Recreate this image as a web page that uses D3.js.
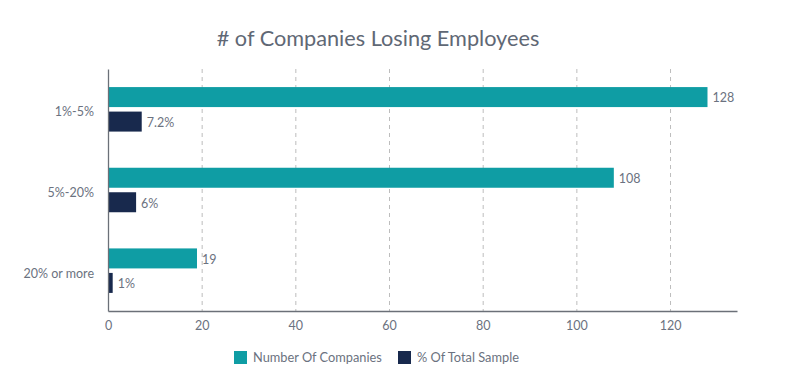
<!DOCTYPE html>
<html>
<head>
<meta charset="utf-8">
<script src="https://cdn.jsdelivr.net/npm/d3@7"></script>
<style>
  body { margin: 0; background: #fff; }
  svg { font-family: Lato, "Open Sans", sans-serif; }
</style>
</head>
<body>
<div id="chart"></div>
<script>
// data
const categories = ["1%-5%", "5%-20%", "20% or more"];
const companies = [128, 108, 19];
const pctSample = [7.2, 6, 1];
const pctLabels = ["7.2%", "6%", "1%"];
const xTicks = [0, 20, 40, 60, 80, 100, 120];
const seriesNames = ["Number Of Companies", "% Of Total Sample"];
const seriesColors = ["#0f9da4", "#18294d"];

const width = 787, height = 386;
const margin = {top: 69, right: 50, bottom: 75, left: 108};

const svg = d3.select("#chart").append("svg")
    .attr("width", width)
    .attr("height", height);

const x = d3.scaleLinear()
    .domain([0, 134.3])
    .range([margin.left, width - margin.right]);

const y = d3.scaleBand()
    .domain(categories)
    .range([margin.top, height - margin.bottom]);

const barH = 20, gap = 4.5;

// title
svg.append("text")
    .attr("x", 378)
    .attr("y", 46)
    .attr("text-anchor", "middle")
    .attr("font-size", 21.7)
    .attr("fill", "#5f6875")
    .text("# of Companies Losing Employees");

// dashed gridlines
svg.append("g")
    .selectAll("line")
    .data(xTicks.filter(d => d > 0))
    .enter().append("line")
    .attr("x1", d => x(d) + 0.5)
    .attr("x2", d => x(d) + 0.5)
    .attr("y1", margin.top)
    .attr("y2", height - margin.bottom)
    .attr("stroke", "#bdbdbd")
    .attr("stroke-dasharray", "4,4");

// bars
const groups = svg.append("g")
    .selectAll("g")
    .data(categories)
    .enter().append("g");

groups.each(function(cat, i) {
    const g = d3.select(this);
    const mid = y(cat) + y.bandwidth() / 2;
    const rows = [
        {v: companies[i], label: String(companies[i]), y0: mid - gap / 2 - barH, c: seriesColors[0]},
        {v: pctSample[i], label: pctLabels[i], y0: mid + gap / 2, c: seriesColors[1]}
    ];
    rows.forEach(r => {
        g.append("rect")
            .attr("x", x(0))
            .attr("y", r.y0)
            .attr("width", x(r.v) - x(0))
            .attr("height", barH)
            .attr("fill", r.c);
        g.append("text")
            .attr("x", x(r.v) + 5)
            .attr("y", r.y0 + barH / 2 + 1)
            .attr("dy", "0.35em")
            .attr("font-size", 12.5)
            .attr("fill", "#6b7280")
            .text(r.label);
    });
});

// x axis
const xAxis = svg.append("g")
    .attr("transform", `translate(0,${height - margin.bottom})`)
    .call(d3.axisBottom(x).tickValues(xTicks).tickSize(0).tickPadding(10));
xAxis.select(".domain").attr("stroke", "#6b7078").attr("stroke-width", 1.3);
xAxis.selectAll("text").attr("font-size", 12.5).attr("fill", "#6b7280")
    .attr("font-family", "Lato, sans-serif");

// y axis
const yAxis = svg.append("g")
    .attr("transform", `translate(${margin.left},0)`)
    .call(d3.axisLeft(y).tickSize(0).tickPadding(14));
yAxis.select(".domain").attr("stroke", "#6b7078").attr("stroke-width", 1.3);
yAxis.selectAll("text").attr("font-size", 12.5).attr("fill", "#6b7280")
    .attr("font-family", "Lato, sans-serif")
    .attr("dy", "0.55em");

// legend
const legendX = [234, 398];
const legend = svg.append("g")
    .selectAll("g")
    .data(seriesNames)
    .enter().append("g")
    .attr("transform", (d, i) => `translate(${legendX[i]},351)`);
legend.append("rect")
    .attr("width", 13)
    .attr("height", 13)
    .attr("fill", (d, i) => seriesColors[i]);
legend.append("text")
    .attr("x", 19)
    .attr("y", 7)
    .attr("dy", "0.35em")
    .attr("font-size", 12.8)
    .attr("fill", "#6b7280")
    .text(d => d);
</script>
</body>
</html>
